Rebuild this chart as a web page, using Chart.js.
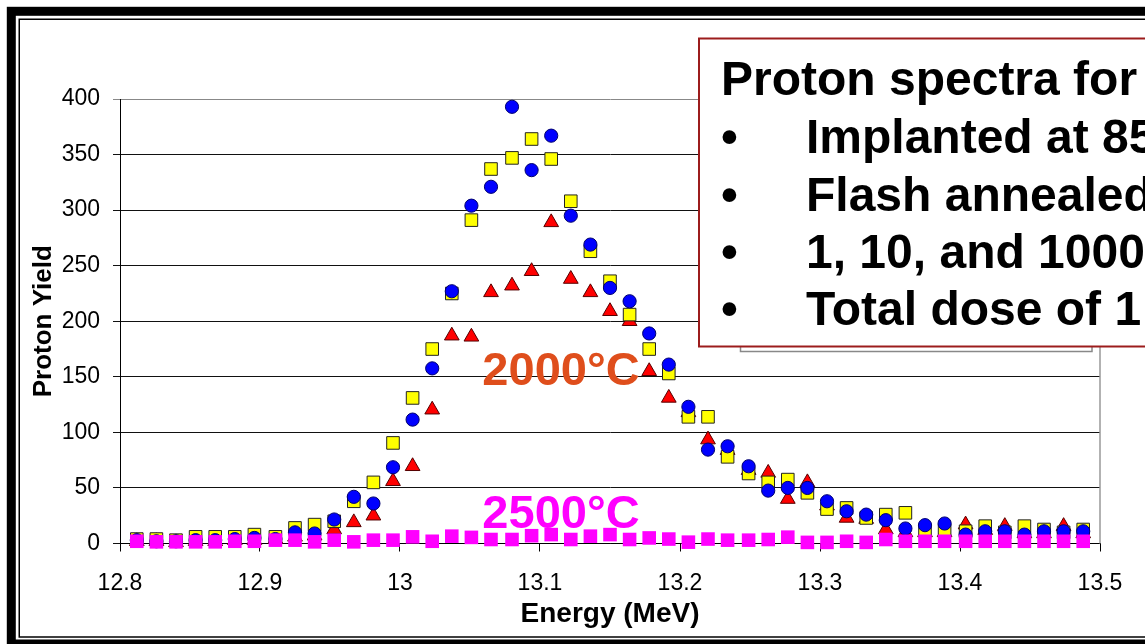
<!DOCTYPE html>
<html><head><meta charset="utf-8">
<script src="https://cdn.jsdelivr.net/npm/chart.js@4.4.1/dist/chart.umd.min.js"></script>
<style>html,body{margin:0;padding:0;background:#fff;overflow:hidden}#wrap{position:relative;width:1145px;height:644px}canvas{display:block}</style>
</head><body><div id="wrap"><canvas id="c" width="1145" height="644"></canvas></div>
<script>
// Energy (MeV) of each channel
const energies = [12.812,12.826,12.840,12.854,12.868,12.882,12.896,12.911,12.925,12.939,
  12.953,12.967,12.981,12.995,13.009,13.023,13.037,13.051,13.065,13.080,
  13.094,13.108,13.122,13.136,13.150,13.164,13.178,13.192,13.206,13.220,
  13.234,13.249,13.263,13.277,13.291,13.305,13.319,13.333,13.347,13.361,
  13.375,13.389,13.404,13.418,13.432,13.446,13.460,13.474,13.488];
// yellow squares
const yieldYellow = [4,4,3,6,6,6,8,6,14,17,
  20,38,55,90.5,131,175,225,291,337,347,
  364,346,308,263,236,206,175,153,114,114,
  78,63,55,57.5,45.6,31,32,23,26,27.6,
  11.5,12,11,15.6,10,15.6,12.6,10,12.6];
// blue circles
const yieldBlue = [3,2,2,3,3,4,5,4,10,9,
  21.6,42,36,68.6,111.5,157.6,227,304,321,393,
  336,367,295,269,230,218,189,161,123,84.5,
  87.5,69.5,47.6,50,50,38,29,26,21,13.5,
  16.5,18,8,11,11,8,11,11,11];
// red triangles
const yieldRed = [2,2,1,2,2,3,3,4,6,7,
  12.6,19,25,56,69.5,120.4,187,186,226,232,
  245,289,238,226,209,200,155,131,118,93.5,
  84,66,63.5,40,55,34,23,22,12.6,10,
  10,10,17,12,15.6,9,9,15.6,9];
// magenta squares (2500°C)
const yieldMagenta = [2,1.5,1.5,1.5,1.5,2,2,3,3,1.5,
  3,1.5,3,3,6,2,6.6,5.5,3.6,3.6,
  7,8,3.6,6.6,8,3.6,5,4,1.2,4,
  3,3,3.6,5.7,1,1,2,1,3.6,2,
  2,2,2,2,2,2,2,2,2];
const xTicksMin = 12.8, xTicksMax = 13.5, xStep = 0.1;
const yTicksMin = 0, yTicksMax = 400, yStep = 50;
const boxLines = ['Proton spectra for', 'Implanted at 85', 'Flash annealed', '1, 10, and 1000', 'Total dose of 1'];

const pts = arr => arr.map((v, i) => ({x: energies[i], y: v}));
const FONT = "'Liberation Sans', Arial, Helvetica, sans-serif";

const decor = {
  id: 'decor',
  beforeDraw(chart) {
    const c = chart.ctx; c.save(); c.fillStyle = '#fff'; c.fillRect(0, 0, chart.width, chart.height); c.restore();
  },
  afterDatasetsDraw(chart) {
    const c = chart.ctx, xs = chart.scales.x, ys = chart.scales.y, a = chart.chartArea;
    c.save();
    // plot area right border
    c.strokeStyle = '#999'; c.lineWidth = 1.5;
    c.beginPath(); c.moveTo(a.right, a.top); c.lineTo(a.right, a.bottom); c.stroke();
    // temperature labels
    c.font = 'bold 47px ' + FONT; c.textAlign = 'center'; c.textBaseline = 'alphabetic';
    c.fillStyle = '#DF4E1C';
    c.fillText('2000°C', xs.getPixelForValue(13.115), ys.getPixelForValue(142.6));
    c.fillStyle = '#FF00FF';
    c.fillText('2500°C', xs.getPixelForValue(13.115), ys.getPixelForValue(13.7));
    c.restore();
  },
  afterDraw(chart) {
    const c = chart.ctx;
    c.save();
    // remnant of legend box behind text box
    c.strokeStyle = '#888'; c.lineWidth = 1.5;
    c.strokeRect(740.5, 300, 351.5, 51.5);
    // text box
    c.fillStyle = '#fff'; c.fillRect(699, 38.5, 600, 308);
    c.strokeStyle = '#9C1C1C'; c.lineWidth = 2; c.strokeRect(699, 38.5, 600, 308);
    c.fillStyle = '#000'; c.font = 'bold 48px ' + FONT; c.textAlign = 'left'; c.textBaseline = 'alphabetic';
    const base = [95, 153, 210.5, 268, 325];
    c.fillText(boxLines[0], 721, base[0]);
    for (let i = 1; i < boxLines.length; i++) {
      c.fillText('•', 721, base[i]);
      c.fillText(boxLines[i], 806, base[i]);
    }
    // slide frame
    c.strokeStyle = '#000';
    c.lineWidth = 9; c.strokeRect(11.3, 11.3, 1200, 632.7);
    c.lineWidth = 1.5; c.strokeRect(19.25, 19.25, 1200, 617.75);
    c.restore();
  }
};

new Chart(document.getElementById('c'), {
  type: 'scatter',
  data: {
    datasets: [
      {label: '2500°C', data: pts(yieldMagenta), clip: false, pointStyle: 'rect', pointRadius: 9.6, backgroundColor: '#FF00FF', borderColor: '#FF00FF', borderWidth: 0},
      {label: 'B', data: pts(yieldBlue), clip: false, pointStyle: 'circle', pointRadius: 6.6, backgroundColor: '#0000FF', borderColor: '#00006E', borderWidth: 1},
      {label: 'Y', data: pts(yieldYellow), clip: false, pointStyle: 'rect', pointRadius: 8.9, backgroundColor: '#FFFF00', borderColor: '#222', borderWidth: 1},
      {label: 'R', data: pts(yieldRed), clip: false, pointStyle: 'triangle', pointRadius: 8.5, backgroundColor: '#FF0000', borderColor: '#550000', borderWidth: 1}
    ]
  },
  options: {
    responsive: false, animation: false, devicePixelRatio: 1,
    layout: {padding: {left: 20, right: 45, top: 99, bottom: 0}},
    plugins: {legend: {display: false}, tooltip: {enabled: false}},
    scales: {
      x: {
        type: 'linear', min: xTicksMin, max: xTicksMax,
        ticks: {stepSize: xStep, color: '#000', font: {family: FONT, size: 23}, padding: 18,
          callback: v => String(+(+v).toFixed(1)), maxRotation: 0},
        grid: {drawOnChartArea: false, drawTicks: true, tickLength: 8, color: '#000', lineWidth: 1},
        border: {color: '#000', width: 1},
        title: {display: true, text: 'Energy (MeV)', color: '#000', font: {family: FONT, size: 28, weight: 'bold'}, padding: {top: 0, bottom: 13}},
        afterFit: s => { s.height = 100.5; }
      },
      y: {
        type: 'linear', min: yTicksMin, max: yTicksMax,
        ticks: {stepSize: yStep, color: '#000', font: {family: FONT, size: 23}, padding: 13},
        grid: {color: ctx => (ctx.tick && ctx.tick.value === 400) ? '#888' : '#111', lineWidth: 1, tickLength: 7, drawTicks: true},
        border: {color: '#000', width: 1},
        title: {display: true, text: 'Proton Yield', color: '#000', font: {family: FONT, size: 26, weight: 'bold'}, padding: {top: 8, bottom: 0}},
        afterFit: s => { s.width = 100; }
      }
    }
  },
  plugins: [decor]
});
</script>
</body></html>
